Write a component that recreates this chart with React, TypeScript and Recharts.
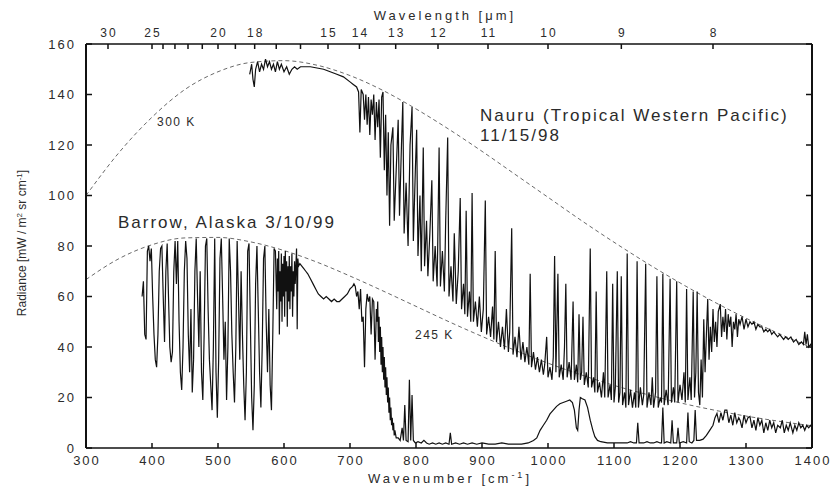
import React from "react";
import { LineChart, Line, XAxis, YAxis } from "recharts";

// wavenumber [cm-1], radiance [mW / m2 sr cm-1]
const nauru: [number, number][] = [
  [548, 148], [551, 152], [553, 146], [555, 143], [557, 150], [560, 153], [563, 149], [566, 152],
  [569, 150], [572, 154], [575, 151], [578, 153], [581, 150], [584, 152], [587, 149], [590, 153],
  [593, 150], [596, 152], [600, 149], [604, 151], [608, 148], [612, 150], [616, 151], [620, 150],
  [625, 151], [630, 151], [640, 151], [650, 150.5], [660, 150], [670, 149], [680, 148], [690, 147],
  [700, 145], [705, 144], [710, 143], [713, 141], [715, 125], [717, 142], [720, 140], [722, 130],
  [724, 140], [726, 128], [728, 139], [730, 124], [732, 138], [734, 132], [736, 140], [738, 122],
  [740, 137], [742, 127], [744, 138], [746, 115], [748, 139], [750, 141], [752, 110], [754, 132],
  [756, 100], [758, 125], [760, 88], [762, 120], [765, 127], [767, 90], [770, 110], [773, 130],
  [775, 92], [778, 120], [780, 137], [782, 85], [785, 105], [788, 80], [791, 120], [794, 135],
  [796, 82], [799, 110], [801, 126], [803, 76], [806, 100], [808, 70], [811, 119], [813, 72],
  [816, 90], [818, 68], [821, 85], [824, 106], [826, 66], [829, 80], [832, 64], [835, 119],
  [837, 64], [840, 78], [843, 62], [845, 90], [848, 123], [850, 60], [853, 72], [856, 58],
  [858, 85], [861, 57], [864, 70], [867, 99], [869, 55], [872, 65], [874, 53], [876, 94],
  [878, 52], [881, 62], [883, 50], [885, 101], [887, 50], [890, 58], [893, 48], [896, 60],
  [899, 46], [902, 55], [905, 98], [907, 45], [910, 52], [913, 44], [916, 56], [918, 43],
  [920, 78], [922, 42], [925, 50], [928, 40], [931, 48], [934, 39], [937, 55], [940, 38],
  [942, 46], [945, 87], [947, 37], [950, 44], [953, 36], [956, 48], [959, 35], [962, 42],
  [965, 34], [968, 40], [971, 33], [973, 69], [975, 32], [978, 38], [981, 31], [984, 36],
  [987, 30], [990, 35], [993, 29], [995, 33], [998, 44], [1000, 28], [1003, 32], [1006, 27],
  [1008, 36], [1010, 76], [1012, 30], [1015, 69], [1017, 28], [1020, 33], [1023, 27], [1025, 40],
  [1027, 65], [1029, 28], [1032, 34], [1035, 27], [1038, 58], [1040, 27], [1043, 33], [1045, 26],
  [1047, 53], [1049, 27], [1051, 30], [1053, 52], [1055, 25], [1058, 30], [1061, 24], [1064, 79],
  [1066, 24], [1069, 28], [1071, 22], [1073, 62], [1075, 22], [1078, 26], [1081, 20], [1084, 30],
  [1086, 20], [1089, 70], [1091, 20], [1094, 25], [1096, 19], [1098, 65], [1100, 18], [1102, 24],
  [1105, 70], [1107, 18], [1109, 22], [1111, 68], [1113, 17], [1116, 22], [1118, 16], [1120, 77],
  [1122, 17], [1125, 23], [1128, 16], [1131, 22], [1133, 16], [1135, 74], [1137, 16], [1140, 24],
  [1143, 17], [1145, 21], [1148, 73], [1150, 16], [1153, 22], [1156, 17], [1158, 28], [1160, 16],
  [1163, 22], [1165, 68], [1167, 16], [1170, 20], [1172, 18], [1174, 69], [1176, 17], [1179, 23],
  [1182, 17], [1185, 67], [1187, 18], [1190, 24], [1192, 18], [1195, 66], [1197, 18], [1200, 25],
  [1203, 19], [1206, 30], [1208, 18], [1210, 63], [1212, 19], [1215, 28], [1217, 19], [1220, 62],
  [1222, 20], [1224, 30], [1226, 62], [1228, 22], [1230, 17], [1232, 35], [1234, 20], [1236, 51],
  [1238, 30], [1240, 45], [1242, 59], [1244, 35], [1246, 48], [1248, 38], [1250, 55], [1252, 42],
  [1254, 50], [1256, 40], [1258, 54], [1261, 57], [1263, 44], [1265, 52], [1267, 46], [1269, 55],
  [1271, 43], [1273, 53], [1275, 48], [1277, 52], [1279, 40], [1281, 50], [1283, 47], [1285, 53],
  [1287, 44], [1289, 51], [1291, 49], [1294, 52], [1297, 47], [1300, 51], [1303, 48], [1306, 50],
  [1309, 49], [1312, 50], [1315, 47], [1318, 49], [1321, 48], [1324, 48], [1327, 46], [1330, 47],
  [1333, 46], [1336, 47], [1339, 45], [1342, 46], [1345, 45], [1348, 44], [1351, 45], [1354, 44],
  [1357, 43], [1360, 44], [1364, 43], [1368, 44], [1372, 42], [1376, 43], [1380, 41], [1384, 42],
  [1387, 41], [1389, 46], [1391, 41], [1393, 45], [1395, 40], [1398, 41], [1400, 40],
];

const barrow: [number, number][] = [
  [385, 60], [387, 66], [389, 45], [391, 43], [393, 78], [395, 80], [397, 74], [399, 79],
  [401, 60], [403, 45], [405, 35], [407, 32], [409, 45], [411, 70], [413, 79], [415, 80],
  [417, 60], [419, 42], [421, 70], [423, 81], [425, 60], [427, 40], [429, 34], [431, 38],
  [433, 70], [435, 82], [437, 65], [439, 82], [441, 50], [443, 30], [445, 23], [447, 40],
  [449, 70], [451, 82], [453, 75], [455, 45], [457, 30], [459, 55], [461, 22], [463, 35],
  [465, 70], [467, 83], [469, 60], [471, 40], [473, 70], [475, 30], [477, 19], [479, 45],
  [481, 80], [483, 83], [485, 55], [487, 35], [489, 25], [491, 15], [493, 40], [495, 83],
  [497, 30], [499, 12], [501, 35], [503, 75], [505, 83], [507, 60], [509, 35], [511, 50],
  [513, 19], [515, 40], [517, 83], [519, 70], [521, 45], [523, 30], [525, 18], [527, 40],
  [529, 82], [531, 60], [533, 35], [535, 70], [537, 45], [539, 25], [541, 11], [543, 30],
  [545, 78], [547, 81], [549, 50], [551, 20], [553, 7], [555, 25], [557, 65], [559, 80],
  [561, 55], [563, 30], [565, 16], [567, 40], [569, 75], [571, 80], [573, 50], [575, 30],
  [577, 55], [579, 25], [581, 15], [583, 45], [585, 79], [587, 78], [589, 55], [590, 75],
  [591, 62], [592, 78], [593, 45], [594, 70], [595, 58], [596, 77], [597, 50], [598, 73],
  [599, 60], [600, 76], [601, 52], [602, 78], [603, 62], [604, 74], [605, 48], [606, 72],
  [607, 58], [608, 76], [609, 55], [610, 72], [611, 62], [612, 77], [613, 52], [614, 70],
  [615, 60], [616, 74], [617, 65], [618, 72], [619, 79], [620, 47], [621, 75], [622, 72],
  [624, 73], [627, 72], [630, 71], [633, 70], [636, 69], [640, 67], [644, 65], [648, 63],
  [652, 61], [656, 60], [660, 59], [664, 60], [668, 59], [672, 58], [676, 59], [680, 58],
  [684, 58], [688, 59], [692, 60], [696, 61], [700, 63], [704, 64], [706, 65], [708, 64],
  [710, 60], [712, 62], [714, 55], [716, 63], [718, 50], [720, 52], [722, 32], [724, 55],
  [726, 61], [728, 58], [730, 60], [732, 45], [734, 59], [736, 58], [738, 35], [740, 55],
  [741, 50], [742, 58], [743, 42], [744, 52], [745, 38], [746, 48], [747, 33], [748, 44],
  [749, 30], [750, 40], [751, 27], [752, 36], [753, 24], [754, 32], [755, 21], [756, 28],
  [757, 18], [758, 24], [759, 14], [760, 20], [761, 11], [762, 16], [763, 9], [764, 12],
  [765, 7], [766, 10], [767, 5], [768, 7], [770, 4], [773, 4],
  [776, 3], [779, 8], [781, 3], [783, 17], [785, 3], [788, 2.5], [790, 27], [792, 3],
  [794, 21], [796, 3], [799, 2], [803, 2.5], [808, 2], [812, 3], [816, 2], [820, 1.5],
  [825, 2], [830, 1.5], [835, 2], [840, 1.5], [845, 2], [850, 1.5], [852, 6], [854, 1.5],
  [860, 2], [866, 1.5], [872, 2], [878, 1.5], [885, 2], [892, 1.5], [900, 2], [910, 1.5],
  [920, 1.5], [930, 2], [940, 1.5], [950, 1.5], [960, 1.5], [970, 2], [978, 3], [983, 4],
  [988, 7], [993, 9], [998, 11], [1003, 13.5], [1008, 15], [1013, 16.5], [1018, 17.5], [1023, 18],
  [1028, 18.5], [1033, 19], [1037, 18], [1040, 15], [1043, 8], [1045, 7], [1047, 15], [1049, 20],
  [1052, 19.5], [1056, 19], [1060, 16], [1064, 11], [1068, 7], [1071, 4.5], [1075, 3], [1080, 2.5],
  [1090, 2], [1100, 2], [1110, 2], [1120, 2], [1125, 2.5], [1130, 2], [1134, 2], [1136, 10],
  [1138, 2], [1145, 2], [1150, 2.5], [1155, 2], [1160, 2], [1165, 2.5], [1170, 2], [1172, 2],
  [1174, 16], [1176, 2], [1180, 2.5], [1186, 2], [1188, 11], [1190, 2], [1195, 2], [1197, 8],
  [1199, 2], [1205, 2.5], [1210, 2], [1212, 14], [1214, 2.5], [1218, 2], [1221, 3], [1223, 15],
  [1225, 3], [1230, 3], [1235, 3.5], [1240, 5], [1245, 7], [1250, 9], [1253, 12], [1256, 13.7],
  [1259, 10], [1262, 14], [1265, 11], [1268, 15], [1271, 15], [1274, 10], [1277, 13], [1280, 9],
  [1283, 14], [1286, 10], [1289, 12], [1291, 11], [1294, 8], [1297, 13], [1300, 10], [1303, 12],
  [1306, 12.5], [1309, 8], [1312, 11], [1315, 7], [1318, 12], [1321, 9], [1324, 11], [1327, 6],
  [1330, 10], [1333, 7], [1336, 11], [1339, 8], [1342, 10], [1345, 6], [1348, 9], [1352, 8],
  [1355, 11], [1358, 6], [1361, 9], [1364, 7], [1367, 10], [1371, 6], [1374, 9], [1377, 7],
  [1380, 10], [1383, 8], [1386, 9], [1389, 7], [1392, 9], [1395, 8], [1398, 9], [1400, 8],
];

// blackbody reference curves (dashed)
const bb300: [number, number][] = [
  [300, 100], [350, 117], [400, 131], [450, 142], [500, 149], [550, 152.7], [600, 153.4],
  [650, 151.6], [700, 147.5], [750, 141.6], [800, 134.3], [850, 126.2], [900, 117.5], [950, 108.4],
  [1000, 99.3], [1050, 90.2], [1100, 81.5], [1150, 73.2], [1200, 65.4], [1250, 58.1], [1300, 51.4],
  [1350, 45.3], [1400, 39.7],
];
const bb245: [number, number][] = [
  [300, 66.7], [350, 75], [400, 80.5], [450, 83.2], [500, 83.4], [550, 81.6], [600, 78.2],
  [650, 73.6], [700, 68.1], [750, 62.2], [800, 56.1], [850, 50], [900, 44.2], [950, 38.7],
  [1000, 33.6], [1050, 29], [1100, 24.8], [1150, 21.2], [1200, 17.9], [1250, 15.1], [1300, 12.65],
  [1350, 10.6], [1400, 8.8],
];

const wavenumberTicks = [300, 400, 500, 600, 700, 800, 900, 1000, 1100, 1200, 1300, 1400];
const radianceTicks = [0, 20, 40, 60, 80, 100, 120, 140, 160];
const wavelengthTicks = [30, 25, 24, 23, 22, 21, 20, 19, 18, 17, 16, 15, 14, 13, 12, 11, 10, 9, 8];
const wavelengthLabels = [30, 25, 20, 18, 15, 14, 13, 12, 11, 10, 9, 8];

const INK = "#111";
const TXT = "#2b2b2b";
const FONT = "'Liberation Sans', Arial, Helvetica, sans-serif";

const toRows = (pairs: [number, number][]) => pairs.map(([x, y]) => ({ x, y }));

const BottomTick = ({ x, y, payload }: any) => (
  <g>
    <line x1={x} x2={x} y1={y} y2={y - 5} stroke={INK} strokeWidth={1.5} />
    <text x={x + 1} y={y + 17} textAnchor="middle" fontSize={13} letterSpacing={2} fill={TXT} fontFamily={FONT}>
      {payload.value}
    </text>
  </g>
);

const TopTick = ({ x, y, payload }: any) => {
  const lam = Math.round(10000 / payload.value);
  return (
    <g>
      <line x1={x} x2={x} y1={y} y2={y + 5} stroke={INK} strokeWidth={1.5} />
      {wavelengthLabels.includes(lam) && (
        <text x={x + 1} y={y - 7} textAnchor="middle" fontSize={12} letterSpacing={2} fill={TXT} fontFamily={FONT}>
          {lam}
        </text>
      )}
    </g>
  );
};

const LeftTick = ({ x, y, payload }: any) => (
  <g>
    <line x1={x} x2={x + 6} y1={y} y2={y} stroke={INK} strokeWidth={1.5} />
    <text x={x - 10} y={y} dy="0.35em" textAnchor="end" fontSize={13} letterSpacing={2} fill={TXT} fontFamily={FONT}>
      {payload.value}
    </text>
  </g>
);

const RightTick = ({ x, y }: any) => (
  <line x1={x} x2={x - 6} y1={y} y2={y} stroke={INK} strokeWidth={1.5} />
);

export default function App() {
  return (
    <div style={{ position: "absolute", left: 0, top: 0, width: 833, height: 486, background: "#fff" }}>
      <LineChart width={833} height={486} margin={{ top: 20, right: 20, bottom: 14, left: 26 }}>
        <XAxis
          xAxisId="b"
          type="number"
          dataKey="x"
          domain={[300, 1400]}
          ticks={wavenumberTicks}
          interval={0}
          height={24}
          tickSize={0}
          tickMargin={0}
          tick={BottomTick}
          axisLine={{ stroke: INK, strokeWidth: 1.5 }}
          allowDataOverflow
        />
        <XAxis
          xAxisId="t"
          orientation="top"
          type="number"
          dataKey="x"
          domain={[300, 1400]}
          ticks={wavelengthTicks.map((l) => 10000 / l)}
          interval={0}
          height={24}
          tickSize={0}
          tickMargin={0}
          tick={TopTick}
          axisLine={{ stroke: INK, strokeWidth: 1.5 }}
          allowDataOverflow
        />
        <YAxis
          yAxisId="l"
          type="number"
          domain={[0, 160]}
          ticks={radianceTicks}
          interval={0}
          width={60}
          tickSize={0}
          tickMargin={0}
          tick={LeftTick}
          axisLine={{ stroke: INK, strokeWidth: 2 }}
          allowDataOverflow
        />
        <YAxis
          yAxisId="r"
          orientation="right"
          type="number"
          domain={[0, 160]}
          ticks={radianceTicks}
          interval={0}
          width={1}
          tickSize={0}
          tickMargin={0}
          tick={RightTick}
          axisLine={{ stroke: INK, strokeWidth: 2 }}
          allowDataOverflow
        />
        <Line xAxisId="b" yAxisId="l" data={toRows(bb300)} dataKey="y" type="monotone" stroke="#6a6a6a"
          strokeWidth={1} strokeDasharray="4 3" dot={false} isAnimationActive={false} />
        <Line xAxisId="b" yAxisId="l" data={toRows(bb245)} dataKey="y" type="monotone" stroke="#6a6a6a"
          strokeWidth={1} strokeDasharray="4 3" dot={false} isAnimationActive={false} />
        <Line xAxisId="b" yAxisId="l" data={toRows(nauru)} dataKey="y" type="linear" stroke={INK}
          strokeWidth={1.2} dot={false} isAnimationActive={false} />
        <Line xAxisId="b" yAxisId="l" data={toRows(barrow)} dataKey="y" type="linear" stroke={INK}
          strokeWidth={1.2} dot={false} isAnimationActive={false} />
      </LineChart>
      <svg width={833} height={486} style={{ position: "absolute", left: 0, top: 0, pointerEvents: "none" }}
        fontFamily={FONT} fill={TXT}>
        <text x={445} y={20} textAnchor="middle" fontSize={13} letterSpacing={3}>Wavelength [μm]</text>
        <text x={450} y={483} textAnchor="middle" fontSize={13} letterSpacing={3}>
          Wavenumber [cm<tspan dy={-5} fontSize={9}>-1</tspan><tspan dy={5}>]</tspan>
        </text>
        <text transform="translate(26 243) rotate(-90)" textAnchor="middle" fontSize={12}>
          Radiance [mW / m<tspan dy={-4} fontSize={8}>2</tspan><tspan dy={4}> sr cm</tspan>
          <tspan dy={-4} fontSize={8}>-1</tspan><tspan dy={4}>]</tspan>
        </text>
        <text x={157} y={126} fontSize={12} letterSpacing={1.5}>300 K</text>
        <text x={415} y={339} fontSize={12} letterSpacing={1.5}>245 K</text>
        <text x={480} y={121} fontSize={17} letterSpacing={2}>Nauru (Tropical Western Pacific)</text>
        <text x={480} y={141} fontSize={17} letterSpacing={2}>11/15/98</text>
        <text x={118} y={228} fontSize={17} letterSpacing={2}>Barrow, Alaska 3/10/99</text>
      </svg>
    </div>
  );
}
